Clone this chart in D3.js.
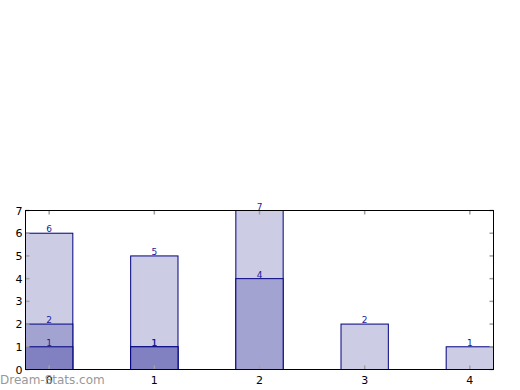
<!DOCTYPE html>
<html>
<head>
<meta charset="utf-8">
<script src="https://cdn.jsdelivr.net/npm/d3@7"></script>
<style>
body { margin: 0; background: #fff; }
svg { display: block; font-family: "DejaVu Sans", sans-serif; }
</style>
</head>
<body>
<script>
const categories = [0, 1, 2, 3, 4];
const totals = [6, 5, 7, 2, 1];
const middle = [2, 1, 4, 0, 0];
const lower = [1, 1, 0, 0, 0];
const yTicks = [0, 1, 2, 3, 4, 5, 6, 7];

const series = [
    { values: totals, fill: "#ccccE4" },
    { values: middle, fill: "#a3a3d2" },
    { values: lower, fill: "#8181c1" }
];

const width = 520, height = 390;
const plotLeft = 25.5, plotRight = 493.5, plotTop = 210.5, plotBottom = 369.5;
const barW = 0.45;

const svg = d3.select("body").append("svg")
    .attr("width", width)
    .attr("height", height);

const x = d3.scaleLinear()
    .domain([-barW / 2, categories.length - 1 + barW / 2])
    .range([plotLeft, plotRight]);
const y = d3.scaleLinear().domain([0, 7]).range([plotBottom, plotTop]);

series.forEach(s => {
    svg.append("g").selectAll("rect")
        .data(categories.filter(c => s.values[c] > 0))
        .enter().append("rect")
        .attr("x", c => x(c - barW / 2))
        .attr("y", c => y(s.values[c]))
        .attr("width", c => x(c + barW / 2) - x(c - barW / 2))
        .attr("height", c => y(0) - y(s.values[c]))
        .style("fill", s.fill)
        .style("stroke", "#000080")
        .style("stroke-width", 1);
});

// value labels
series.forEach(s => {
    svg.append("g").selectAll("text")
        .data(categories.filter(c => s.values[c] > 0))
        .enter().append("text")
        .attr("x", c => x(c))
        .attr("y", c => y(s.values[c]) - 1)
        .attr("text-anchor", "middle")
        .style("font-size", "9px")
        .style("fill", "#1a1a99")
        .text(c => s.values[c]);
});

// ticks (inward, gray) on all sides
const tickColor = "#a0a0a0";
const tk = svg.append("g").style("stroke", tickColor).style("stroke-width", 1.5);
categories.forEach(c => {
    tk.append("line").attr("x1", x(c)).attr("x2", x(c)).attr("y1", plotBottom).attr("y2", plotBottom - 4);
    tk.append("line").attr("x1", x(c)).attr("x2", x(c)).attr("y1", plotTop).attr("y2", plotTop + 4);
});
yTicks.forEach(v => {
    tk.append("line").attr("x1", plotLeft).attr("x2", plotLeft + 4).attr("y1", y(v)).attr("y2", y(v));
    tk.append("line").attr("x1", plotRight).attr("x2", plotRight - 4).attr("y1", y(v)).attr("y2", y(v));
});

// frame
svg.append("rect")
    .attr("x", plotLeft).attr("y", plotTop)
    .attr("width", plotRight - plotLeft).attr("height", plotBottom - plotTop)
    .style("fill", "none")
    .style("stroke", "#000")
    .style("stroke-width", 1);

// tick labels
svg.append("g").selectAll("text")
    .data(categories)
    .enter().append("text")
    .attr("x", c => x(c))
    .attr("y", plotBottom + 14)
    .attr("text-anchor", "middle")
    .style("font-size", "11px")
    .text(c => c);

svg.append("g").selectAll("text")
    .data(yTicks)
    .enter().append("text")
    .attr("x", plotLeft - 3)
    .attr("y", v => y(v) + 4)
    .attr("text-anchor", "end")
    .style("font-size", "11px")
    .text(v => v);

// watermark
svg.append("text")
    .attr("x", 0)
    .attr("y", 384)
    .style("font-size", "12px")
    .style("fill", "#999")
    .text("Dream-Stats.com");
</script>
</body>
</html>
